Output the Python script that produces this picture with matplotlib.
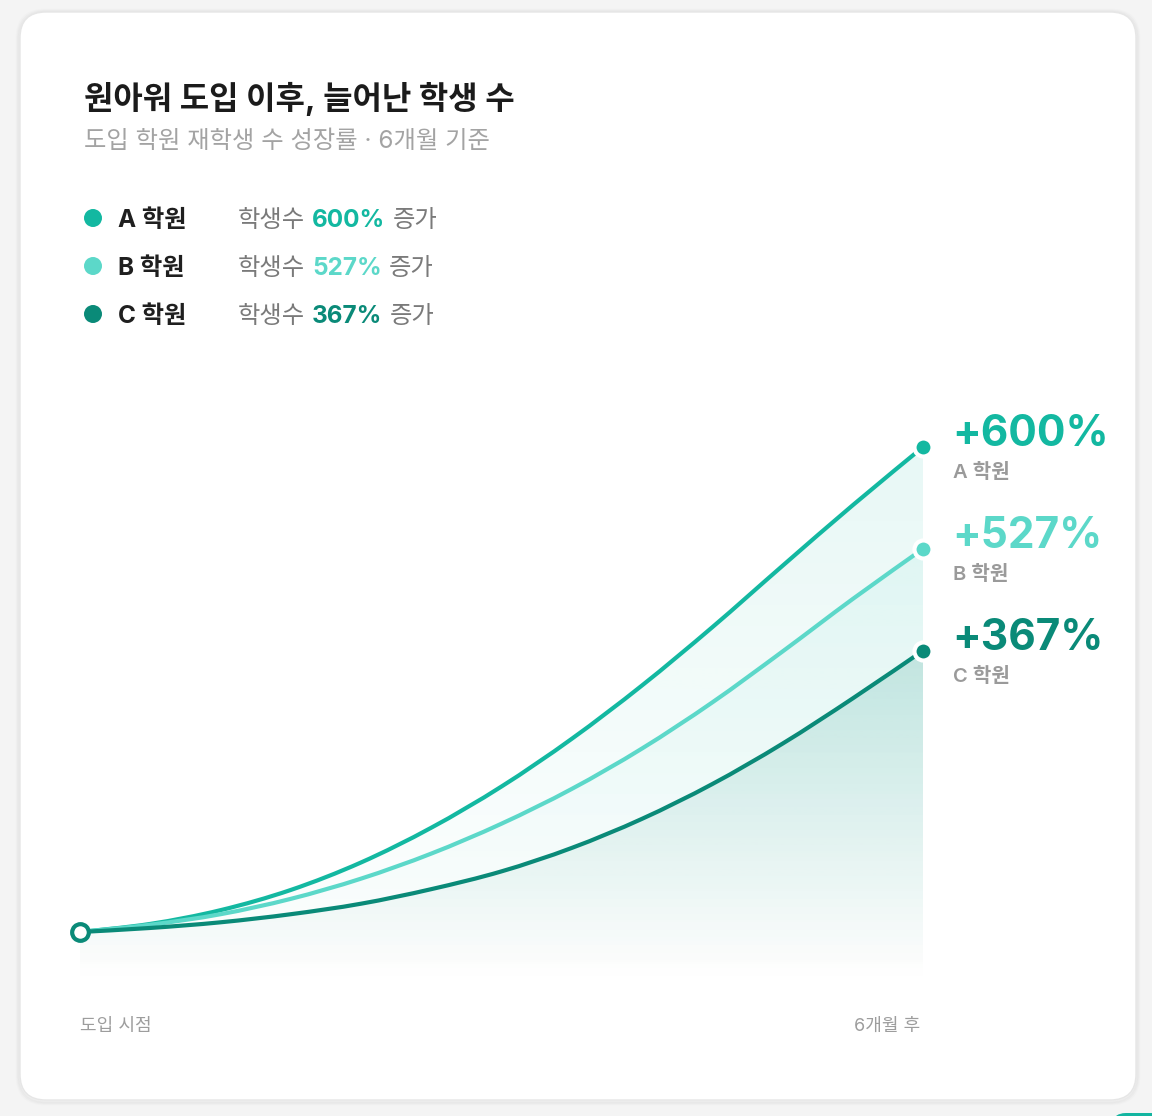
import numpy as np
import matplotlib
matplotlib.use("Agg")
import matplotlib.pyplot as plt
from matplotlib.patches import FancyBboxPatch, PathPatch, Circle
from matplotlib.path import Path

plt.rcParams['font.family'] = ['Inter', 'Noto Sans CJK KR', 'DejaVu Sans']

# data (growth in %, by month)
months = [0, 0.5, 1, 1.5, 2, 2.5, 3, 3.5, 4, 4.5, 5, 5.5, 6]
a_vals = [0, 10, 27, 52, 86, 129, 180, 239, 305, 377, 453, 528, 600]
b_vals = [0, 9, 22, 41, 66, 97, 134, 177, 227, 284, 347, 412, 474]
c_vals = [0, 5, 12, 22, 35, 53, 75, 104, 140, 183, 233, 289, 348]

names = ['A 학원', 'B 학원', 'C 학원']
growth = ['600%', '527%', '367%']
colors = ['#13b8a1', '#5cd8c9', '#0a8a78']
x_labels = ['도입 시점', '6개월 후']


def smooth_path(xs, ys, close_to=None):
    # catmull-rom through the points, drawn as cubic bezier segments
    p = np.column_stack([xs, ys]).astype(float)
    n = len(p)
    verts = [p[0]]
    codes = [Path.MOVETO]
    for i in range(n - 1):
        p0 = p[i - 1] if i > 0 else p[i]
        p3 = p[i + 2] if i + 2 < n else p[i + 1]
        c1 = p[i] + (p[i + 1] - p0) / 6
        c2 = p[i + 1] - (p3 - p[i]) / 6
        verts += [c1, c2, p[i + 1]]
        codes += [Path.CURVE4] * 3
    if close_to is not None:
        verts += [(xs[-1], close_to), (xs[0], close_to), p[0]]
        codes += [Path.LINETO, Path.LINETO, Path.CLOSEPOLY]
    return Path(verts, codes)


W, H = 1152, 1116
fig = plt.figure(figsize=(W / 100, H / 100), dpi=100)
fig.patch.set_facecolor('#f4f4f4')

# background axes in pixel coordinates
bg = fig.add_axes([0, 0, 1, 1])
bg.set_xlim(0, W)
bg.set_ylim(H, 0)
bg.axis('off')

# card with soft shadow
for i, a in enumerate([0.012, 0.018, 0.025]):
    bg.add_patch(FancyBboxPatch((20 - 3 + i, 12 - 2 + i), 1116 + 6 - 2 * i, 1088 + 6 - 2 * i,
                                boxstyle="round,pad=0,rounding_size=28",
                                fc='none', ec=(0, 0, 0, a), lw=2))
bg.add_patch(FancyBboxPatch((20, 12), 1116, 1088, boxstyle="round,pad=0,rounding_size=26",
                            fc='white', ec='#e6e6e6', lw=1.0))
bg.add_patch(FancyBboxPatch((1112, 1113), 90, 30, boxstyle="round,pad=0,rounding_size=14",
                            fc='#13b5a0', ec='none'))

# title
bg.text(84, 99, '원아워 도입 이후, 늘어난 학생 수', fontsize=23, fontweight='bold',
        color='#1b1b1b', va='center', ha='left')
bg.text(84, 142, '도입 학원 재학생 수 성장률 · 6개월 기준', fontsize=17.5,
        color='#a3a3a3', va='center', ha='left')

# legend
renderer = fig.canvas.get_renderer()
inv = bg.transData.inverted()
rows = [218, 266, 314]
for name, g, col, yy in zip(names, growth, colors, rows):
    bg.add_patch(Circle((93, yy), 9, fc=col, ec='none'))
    ty = yy + 2.5
    bg.text(118, ty, name, fontsize=17.5, fontweight='bold', color='#1f1f1f', va='center')
    t1 = bg.text(238, ty, '학생수', fontsize=17.5, color='#7a7a7a', va='center')
    x1 = inv.transform(t1.get_window_extent(renderer).get_points())[1, 0] + 7
    t2 = bg.text(x1, ty, g, fontsize=17.5, fontweight='bold', color=col, va='center')
    x2 = inv.transform(t2.get_window_extent(renderer).get_points())[1, 0] + 7
    bg.text(x2, ty, '증가', fontsize=17.5, color='#7a7a7a', va='center')

# chart axes: value 0 at px 932, 600 at px 447
k = (932 - 447) / 600.0
top_px, bot_px = 420, 990
ax = fig.add_axes([80 / W, 1 - bot_px / H, 843 / W, (bot_px - top_px) / H])
ax.set_xlim(0, 6)
ax.set_ylim(-(bot_px - 932) / k, (932 - top_px) / k)
ax.axis('off')
ax.patch.set_alpha(0)

fill_bottom = -(984 - 932) / k
series = [a_vals, b_vals, c_vals]
alphas = [0.10, 0.09, 0.17]
for vals, col, al, z in zip(series, colors, alphas, [1, 2, 3]):
    rgb = matplotlib.colors.to_rgb(col)
    grad = np.zeros((256, 1, 4))
    grad[:, 0, :3] = rgb
    grad[:, 0, 3] = np.linspace(al, 0.0, 256)
    im = ax.imshow(grad, extent=[0, 6, fill_bottom, max(vals)], aspect='auto',
                   origin='upper', zorder=z, interpolation='bilinear')
    clip = PathPatch(smooth_path(months, vals, close_to=fill_bottom),
                     transform=ax.transData, fc='none', ec='none')
    ax.add_patch(clip)
    im.set_clip_path(clip)

for vals, col in zip(series, colors):
    ax.add_patch(PathPatch(smooth_path(months, vals), fc='none', ec=col, lw=3,
                           capstyle='round', joinstyle='round', zorder=5))
    ax.plot([months[-1]], [vals[-1]], 'o', ms=13, mfc=col, mec='white', mew=3,
            zorder=6, clip_on=False)
ax.plot([0], [0], 'o', ms=12, mfc='white', mec=colors[2], mew=3, zorder=7, clip_on=False)

# right labels
lab_y = [435, 537, 639]
for name, g, col, yy in zip(names, growth, colors, lab_y):
    bg.text(952, yy, '+' + g, fontsize=30.5, fontweight='bold', color=col, va='center', ha='left')
    bg.text(953, yy + 38, name, fontsize=14.5, fontweight='semibold', color='#9a9a9a',
            va='center', ha='left')

# x labels
bg.text(80, 1026, x_labels[0], fontsize=13, color='#9d9d9d', va='center', ha='left')
bg.text(920, 1026, x_labels[1], fontsize=13, color='#9d9d9d', va='center', ha='right')

fig.savefig('out.png', dpi=100, facecolor=fig.get_facecolor())
